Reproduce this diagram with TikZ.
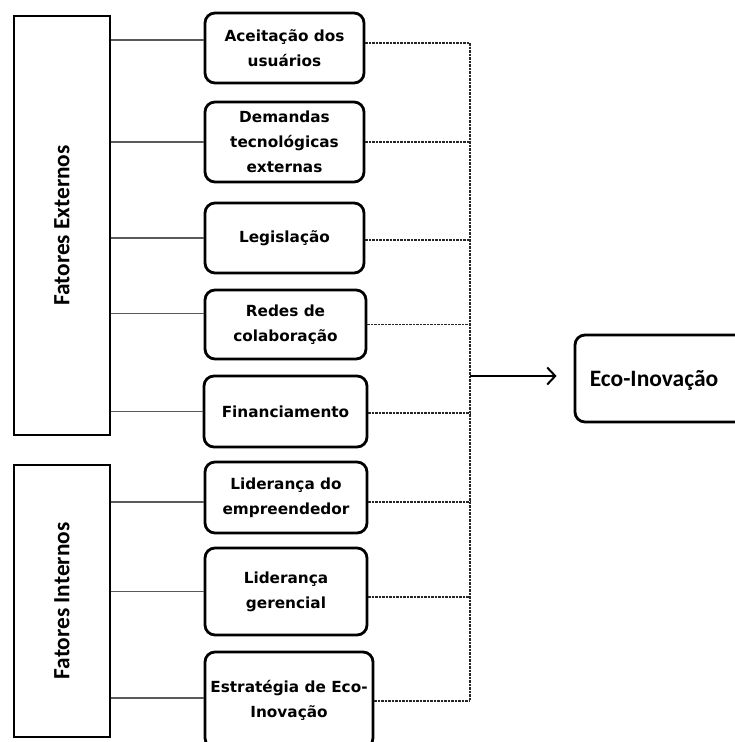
\documentclass[tikz,border=0pt]{standalone}
\usepackage{fontspec}
\setmainfont{DejaVu Sans}
\newfontfamily\calfont{Carlito}
\usetikzlibrary{arrows.meta}
\begin{document}
\begin{tikzpicture}[x=1pt,y=-1pt,
  factor/.style={draw=black, line width=2.8pt, rounded corners=10pt,
    font=\fontsize{15.3}{25}\selectfont\bfseries, align=center, inner sep=0pt},
  group/.style={draw=black, line width=2pt, inner sep=0pt},
  grouplabel/.style={rotate=90, font=\calfont\fontsize{23.3}{28}\selectfont\bfseries, inner sep=0pt},
  link/.style={draw=black!65, line width=1.4pt},
  dashlink/.style={draw=black!85, line width=1.2pt, dash pattern=on 2.5pt off 1pt},
  mainarrow/.style={draw=black, line width=2pt, -{Straight Barb[length=8pt,width=17pt,line width=2pt]}}
]
\useasboundingbox (0,0) rectangle (735,742);
\clip (0,0) rectangle (735,742);

% group boxes
\node[group, minimum width=96pt, minimum height=419pt] (ext) at (62,225.5) {};
\node[grouplabel] (extlab) at (ext.center) {Fatores Externos};
\node[group, minimum width=96pt, minimum height=272pt] (int) at (62,601) {};
\node[grouplabel] (intlab) at (int.center) {Fatores Internos};

% factor boxes
\node[factor, minimum width=159pt, minimum height=70pt] (A) at (284.5,48) {Aceitação dos\\usuários};
\node[factor, minimum width=159pt, minimum height=80pt] (D) at (284.5,142) {Demandas\\tecnológicas\\externas};
\node[factor, minimum width=159pt, minimum height=70pt] (L) at (284.5,238) {Legislação};
\node[factor, minimum width=161pt, minimum height=69pt] (R) at (285.5,324.5) {Redes de\\colaboração};
\node[factor, minimum width=163pt, minimum height=71pt] (F) at (285.5,411.5) {Financiamento};
\node[factor, minimum width=162pt, minimum height=71pt] (LD) at (286,497.5) {Liderança do\\empreendedor};
\node[factor, minimum width=162pt, minimum height=87pt] (LG) at (286,591.5) {Liderança\\gerencial};
\node[factor, minimum width=168pt, minimum height=96pt] (E) at (289,700) {Estratégia de Eco-\\Inovação};

% target
\node[draw=black, line width=2.8pt, rounded corners=10pt, minimum width=170pt, minimum height=87pt, inner sep=0pt] (eco) at (660,378.5) {};
\node[font=\calfont\fontsize{23.5}{28}\selectfont\bfseries, inner sep=0pt] (ecotext) at (654,380) {Eco-Inovação};

% bus coordinate
\coordinate (bus) at (470,376);

% solid links from groups
\draw[link] ([yshift=8pt]A.west -| ext.east) -- ([yshift=8pt]A.west);
\draw[link] (D.west -| ext.east) -- (D.west);
\draw[link] (L.west -| ext.east) -- (L.west);
\draw[link] ([yshift=11pt]R.west -| ext.east) -- ([yshift=11pt]R.west);
\draw[link] (F.west -| ext.east) -- (F.west);
\draw[link] ([yshift=-4.5pt]LD.west -| int.east) -- ([yshift=-4.5pt]LD.west);
\draw[link] (LG.west -| int.east) -- (LG.west);
\draw[link] ([yshift=2pt]E.west -| int.east) -- ([yshift=2pt]E.west);

% dashed links to bus
\draw[dashlink] ([yshift=5pt]A.east) -- ([yshift=5pt]A.east -| bus);
\draw[dashlink] (D.east) -- (D.east -| bus);
\draw[dashlink] ([yshift=-2pt]L.east) -- ([yshift=-2pt]L.east -| bus);
\draw[dashlink] (R.east) -- (R.east -| bus);
\draw[dashlink] ([yshift=-1.5pt]F.east) -- ([yshift=-1.5pt]F.east -| bus);
\draw[dashlink] ([yshift=-4.5pt]LD.east) -- ([yshift=-4.5pt]LD.east -| bus);
\draw[dashlink] ([yshift=-5.5pt]LG.east) -- ([yshift=-5.5pt]LG.east -| bus);
\draw[dashlink] ([yshift=-1pt]E.east) -- ([yshift=-1pt]E.east -| bus);
\draw[dashlink] ([yshift=5pt]A.east -| bus) -- ([yshift=-1pt]E.east -| bus);

% arrow to Eco-Inovação
\draw[mainarrow, shorten >=17pt] (bus) -- (bus -| eco.west);
\end{tikzpicture}
\end{document}
